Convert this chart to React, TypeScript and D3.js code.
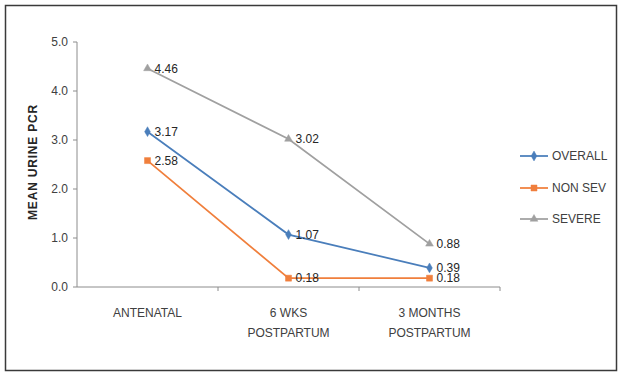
import React from "react";
import * as d3 from "d3";

const categories: string[][] = [["ANTENATAL"], ["6 WKS", "POSTPARTUM"], ["3 MONTHS", "POSTPARTUM"]];
const overall = [3.17, 1.07, 0.39];
const nonSev = [2.58, 0.18, 0.18];
const severe = [4.46, 3.02, 0.88];
const yTicks = [0, 1, 2, 3, 4, 5];
const seriesNames = ["OVERALL", "NON SEV", "SEVERE"];

const W = 621;
const H = 374;
const plot = { left: 77, right: 500, top: 42, bottom: 287 };
const font = "'Liberation Sans Narrow', 'Arial Narrow', 'Liberation Sans', sans-serif";

type Shape = "diamond" | "square" | "triangle";

const series = [
  { name: seriesNames[0], values: overall, color: "#4A7EBB", marker: "diamond" as Shape },
  { name: seriesNames[1], values: nonSev, color: "#F07F3C", marker: "square" as Shape },
  { name: seriesNames[2], values: severe, color: "#A0A0A0", marker: "triangle" as Shape },
];

function Marker({ x, y, shape, color }: { x: number; y: number; shape: Shape; color: string }) {
  const sym =
    shape === "diamond" ? d3.symbolDiamond : shape === "square" ? d3.symbolSquare : d3.symbolTriangle;
  const size = shape === "square" ? 36 : shape === "diamond" ? 28 : 26;
  const path = d3.symbol(sym, size)() || "";
  return <path d={path} transform={`translate(${x},${y})`} fill={color} stroke={color} strokeWidth={0.5} />;
}

export default function App() {
  const x = d3
    .scaleBand<number>()
    .domain(categories.map((_, i) => i))
    .range([plot.left, plot.right]);
  const y = d3.scaleLinear().domain([0, 5]).range([plot.bottom, plot.top]);
  const cx = (i: number) => (x(i) as number) + x.bandwidth() / 2;
  const line = d3
    .line<number>()
    .x((_, i) => cx(i))
    .y((d) => y(d));

  const legendY = [156, 188, 219];

  return (
    <svg width={W} height={H} style={{ position: "absolute", left: 0, top: 0 }}>
      <rect x={0} y={0} width={W} height={H} fill="#fff" />
      <rect x={5.5} y={5.5} width={611} height={365} fill="#fff" stroke="#3a3a3a" strokeWidth={1.5} />

      {/* y axis */}
      <line x1={plot.left} x2={plot.left} y1={plot.top} y2={plot.bottom} stroke="#8c8c8c" />
      {yTicks.map((t) => (
        <g key={t}>
          <line x1={plot.left - 4} x2={plot.left} y1={y(t)} y2={y(t)} stroke="#8c8c8c" />
          <text
            x={plot.left - 9}
            y={y(t)}
            dy="0.35em"
            textAnchor="end"
            fontFamily={font}
            fontSize={12}
            fill="#404040"
          >
            {t.toFixed(1)}
          </text>
        </g>
      ))}

      {/* x axis */}
      <line x1={plot.left} x2={plot.right} y1={plot.bottom} y2={plot.bottom} stroke="#8c8c8c" />
      {categories.map((_, i) => {
        const xe = (x(i) as number) + x.bandwidth();
        return <line key={i} x1={xe} x2={xe} y1={plot.bottom} y2={plot.bottom + 4} stroke="#8c8c8c" />;
      })}
      {categories.map((lines, i) => (
        <text key={i} x={cx(i)} y={plot.bottom + 30} textAnchor="middle" fontFamily={font} fontSize={12} fill="#404040">
          {lines.map((l, j) => (
            <tspan key={j} x={cx(i)} dy={j === 0 ? 0 : 20}>
              {l}
            </tspan>
          ))}
        </text>
      ))}

      {/* y title */}
      <text
        transform={`translate(37,${162}) rotate(-90)`}
        textAnchor="middle"
        fontFamily={font}
        fontSize={12}
        fontWeight="bold"
        letterSpacing={0.8}
        fill="#262626"
      >
        MEAN URINE PCR
      </text>

      {/* series */}
      {series.map((s) => (
        <g key={s.name}>
          <path d={line(s.values) || ""} fill="none" stroke={s.color} strokeWidth={1.75} />
          {s.values.map((v, i) => (
            <Marker key={i} x={cx(i)} y={y(v)} shape={s.marker} color={s.color} />
          ))}
        </g>
      ))}
      {series.map((s) =>
        s.values.map((v, i) => (
          <text
            key={s.name + i}
            x={cx(i) + 7}
            y={y(v)}
            dy="0.35em"
            fontFamily={font}
            fontSize={12}
            fill="#262626"
          >
            {v.toFixed(2)}
          </text>
        ))
      )}

      {/* legend */}
      {series.map((s, k) => (
        <g key={s.name}>
          <line x1={520} x2={548} y1={legendY[k]} y2={legendY[k]} stroke={s.color} strokeWidth={1.75} />
          <Marker x={534} y={legendY[k]} shape={s.marker} color={s.color} />
          <text x={552} y={legendY[k]} dy="0.35em" fontFamily={font} fontSize={12} fill="#404040">
            {s.name}
          </text>
        </g>
      ))}
    </svg>
  );
}
